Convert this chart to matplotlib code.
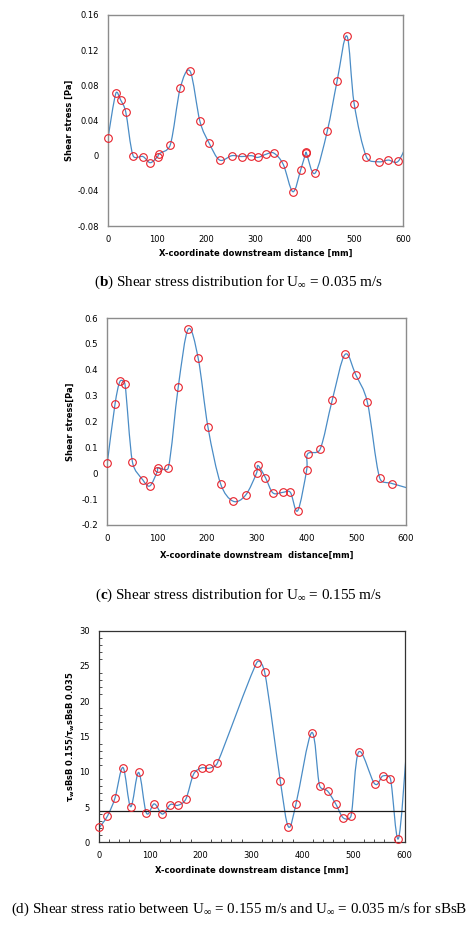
import numpy as np
import matplotlib
matplotlib.use("Agg")
import matplotlib.pyplot as plt
from matplotlib.path import Path
from matplotlib.patches import PathPatch

plt.rcParams['font.family'] = ['DejaVu Sans']
plt.rcParams['mathtext.fontset'] = 'custom'
plt.rcParams['mathtext.rm'] = 'Liberation Serif'
plt.rcParams['mathtext.bf'] = 'Liberation Serif:bold'
plt.rcParams['mathtext.it'] = 'Liberation Serif:italic'

# ---------------- data ----------------
# (b) U = 0.035 m/s
xb = [0, 16, 26, 36, 51, 71, 86, 101, 103.5, 126.5, 147, 167, 187, 206, 227,
      252, 272, 291.6, 304.5, 321, 337, 356.5, 376, 392, 402, 403, 421, 446,
      466, 486, 500.7, 525.7, 550.7, 570, 590, 610]
yb = [0.020, 0.071, 0.063, 0.050, 0.000, -0.001, -0.008, -0.001, 0.002, 0.012,
      0.077, 0.096, 0.039, 0.014, -0.005, 0.000, -0.001, 0.000, -0.002, 0.0015,
      0.003, -0.010, -0.041, -0.016, 0.003, 0.004, -0.020, 0.028, 0.085, 0.136,
      0.059, -0.0015, -0.007, -0.005, -0.0065, 0.016]

# (c) U = 0.155 m/s
xc = [0.7, 16, 26, 36, 51, 71.6, 86, 101, 103, 123, 143, 163, 183, 202.7, 228,
      253, 278, 300, 303, 318, 333, 352.5, 368, 382.6, 400.7, 402.7, 427.4, 452,
      477.6, 499, 522.4, 547, 572.6, 622]
yc = [0.041, 0.266, 0.355, 0.345, 0.044, -0.025, -0.049, 0.007, 0.021, 0.021,
      0.334, 0.557, 0.444, 0.177, -0.041, -0.108, -0.085, 0.000, 0.030, -0.017,
      -0.076, -0.074, -0.074, -0.145, 0.013, 0.075, 0.092, 0.283, 0.459, 0.381,
      0.275, -0.017, -0.040, -0.066]

# (d) ratio
xd = [1.3, 17, 32, 47.7, 62.7, 78.4, 93.5, 109, 125, 140.5, 155.5, 171, 186, 202,
      217, 232.7, 309.8, 325.5, 356, 372, 387, 417.6, 433, 449, 464.7, 479.7,
      494.8, 509.8, 541, 556.9, 572, 587.6, 604]
yd = [2.1, 3.7, 6.3, 10.6, 5.05, 9.9, 4.15, 5.45, 4.0, 5.35, 5.25, 6.15, 9.65,
      10.55, 10.5, 11.25, 25.45, 24.1, 8.75, 2.2, 5.5, 15.55, 8.05, 7.25, 5.45,
      3.45, 3.75, 12.8, 8.3, 9.4, 9.0, 0.5, 13.5]
ref_level = 4.45

b_yticks = [-0.08, -0.04, 0, 0.04, 0.08, 0.12, 0.16]
b_ylabels = ['-0.08', '-0.04', '0', '0.04', '0.08', '0.12', '0.16']
c_yticks = [-0.2, -0.1, 0, 0.1, 0.2, 0.3, 0.4, 0.5, 0.6]
c_ylabels = ['-0.2', '-0.1', '0', '0.1', '0.2', '0.3', '0.4', '0.5', '0.6']
d_yticks = [0, 5, 10, 15, 20, 25, 30]
x_ticks = [0, 100, 200, 300, 400, 500, 600]

LINE = '#4a8cc6'
MARK = '#e8202a'


def excel_smooth_path(ax, x, y):
    """Excel-style smoothed line (Bezier with limited tangents), computed
    in display-proportional space and expressed in data coordinates."""
    pts = np.column_stack([x, y]).astype(float)
    disp = ax.transData.transform(pts)
    n = len(pts)
    f = 1.0 / 6.0
    verts = [pts[0]]
    codes = [Path.MOVETO]
    for i in range(n - 1):
        i0 = i - 1 if i > 0 else i
        i3 = i + 2 if i + 2 < n else i + 1
        p0, p1, p2, p3 = pts[i0], pts[i], pts[i + 1], pts[i3]
        q0, q1, q2, q3 = disp[i0], disp[i], disp[i + 1], disp[i3]
        d02 = np.hypot(*(q2 - q0))
        d12 = np.hypot(*(q2 - q1))
        d13 = np.hypot(*(q3 - q1))
        f1 = f
        f2 = f
        if d02 > 0 and d02 * f > d12 / 2:
            f1 = d12 / d02 / 2
        if d13 > 0 and d13 * f > d12 / 2:
            f2 = d12 / d13 / 2
        c1 = p1 + (p2 - p0) * f1
        c2 = p2 - (p3 - p1) * f2
        verts += [c1, c2, p2]
        codes += [Path.CURVE4] * 3
    return Path(verts, codes)


def draw_series(ax, x, y):
    ax.add_patch(PathPatch(excel_smooth_path(ax, x, y), fill=False,
                           edgecolor=LINE, lw=0.9))
    x = np.asarray(x); y = np.asarray(y)
    m = x <= 600
    ax.plot(x[m], y[m], 'o', mfc='none', mec=MARK, ms=5.5, mew=0.8,
            clip_on=False, zorder=3)


W, H = 474, 925
fig = plt.figure(figsize=(W / 100, H / 100), dpi=100)


def make_axes(l, r, t, b):
    return fig.add_axes([l / W, 1 - b / H, (r - l) / W, (b - t) / H])


tick_fs = 6
lab_fs = 6

# ---- (b)
axb = make_axes(108, 403, 15, 226)
axb.set_xlim(0, 600)
axb.set_ylim(-0.08, 0.16)
draw_series(axb, xb, yb)
axb.set_yticks(b_yticks, b_ylabels)
axb.set_xticks(x_ticks)
for s in axb.spines.values():
    s.set_color('#8c8c8c'); s.set_linewidth(1.0)
axb.tick_params(length=0, labelsize=tick_fs, pad=6.5)
axb.set_xlabel('X-coordinate downstream distance [mm]', fontsize=lab_fs, fontweight='bold')
axb.set_ylabel('Shear stress [Pa]', fontsize=lab_fs, fontweight='bold')
axb.xaxis.label.set_va('center'); axb.yaxis.label.set_va('center')
axb.xaxis.set_label_coords(0.5, -27 / 211)
axb.yaxis.set_label_coords(-39 / 295, 0.5)

# ---- (c)
axc = make_axes(107, 406, 318, 525)
axc.set_xlim(0, 600)
axc.set_ylim(-0.2, 0.6)
draw_series(axc, xc, yc)
axc.set_yticks(c_yticks, c_ylabels)
axc.set_xticks(x_ticks)
for s in axc.spines.values():
    s.set_color('#8c8c8c'); s.set_linewidth(1.0)
axc.tick_params(length=0, labelsize=6.2, pad=6.5)
axc.set_xlabel('X-coordinate downstream  distance[mm]', fontsize=lab_fs, fontweight='bold')
axc.set_ylabel('Shear stress[Pa]', fontsize=lab_fs, fontweight='bold')
axc.xaxis.label.set_va('center'); axc.yaxis.label.set_va('center')
axc.xaxis.set_label_coords(0.5, -30.5 / 207)
axc.yaxis.set_label_coords(-37 / 299, 0.5)

# ---- (d)
axd = make_axes(98.7, 404.7, 630.7, 842.3)
axd.set_xlim(0, 600)
axd.set_ylim(0, 30)
draw_series(axd, xd, yd)
axd.axhline(ref_level, color='#1a1a1a', lw=0.9, zorder=2)
axd.set_yticks(d_yticks)
axd.set_xticks(x_ticks)
axd.set_xticks(np.arange(0, 601, 20), minor=True)
axd.set_yticks(np.arange(0, 31, 1), minor=True)
for s in axd.spines.values():
    s.set_color('#333333'); s.set_linewidth(0.9)
axd.tick_params(which='major', length=0, labelsize=tick_fs, pad=6.5)
axd.tick_params(which='minor', direction='in', length=2.5, width=0.6, color='#333333')
axd.set_xlabel('X-coordinate downstream distance [mm]', fontsize=lab_fs, fontweight='bold')
axd.set_ylabel(r'τ$_\mathregular{w}$sBsB 0.155/τ$_\mathregular{w}$sBsB 0.035',
               fontsize=lab_fs, fontweight='bold')
axd.xaxis.label.set_va('center'); axd.yaxis.label.set_va('center')
axd.xaxis.set_label_coords(0.5, -28 / 211.6)
axd.yaxis.set_label_coords(-28 / 306, 0.5)

# ---- captions
cap_fs = 10.9
fig.text(239 / W, 1 - 282 / H,
         r'($\mathbf{b}$) Shear stress distribution for $\mathregular{U}_{\infty}$ = 0.035 m/s',
         ha='center', va='center', fontsize=cap_fs, family='Liberation Serif')
fig.text(239 / W, 1 - 595 / H,
         r'($\mathbf{c}$) Shear stress distribution for $\mathregular{U}_{\infty}$ = 0.155 m/s',
         ha='center', va='center', fontsize=cap_fs, family='Liberation Serif')
fig.text(239 / W, 1 - 909 / H,
         r'(d) Shear stress ratio between $\mathregular{U}_{\infty}$ = 0.155 m/s and '
         r'$\mathregular{U}_{\infty}$ = 0.035 m/s for sBsB',
         ha='center', va='center', fontsize=10.8, family='Liberation Serif')

fig.savefig('out.png', dpi=100)
